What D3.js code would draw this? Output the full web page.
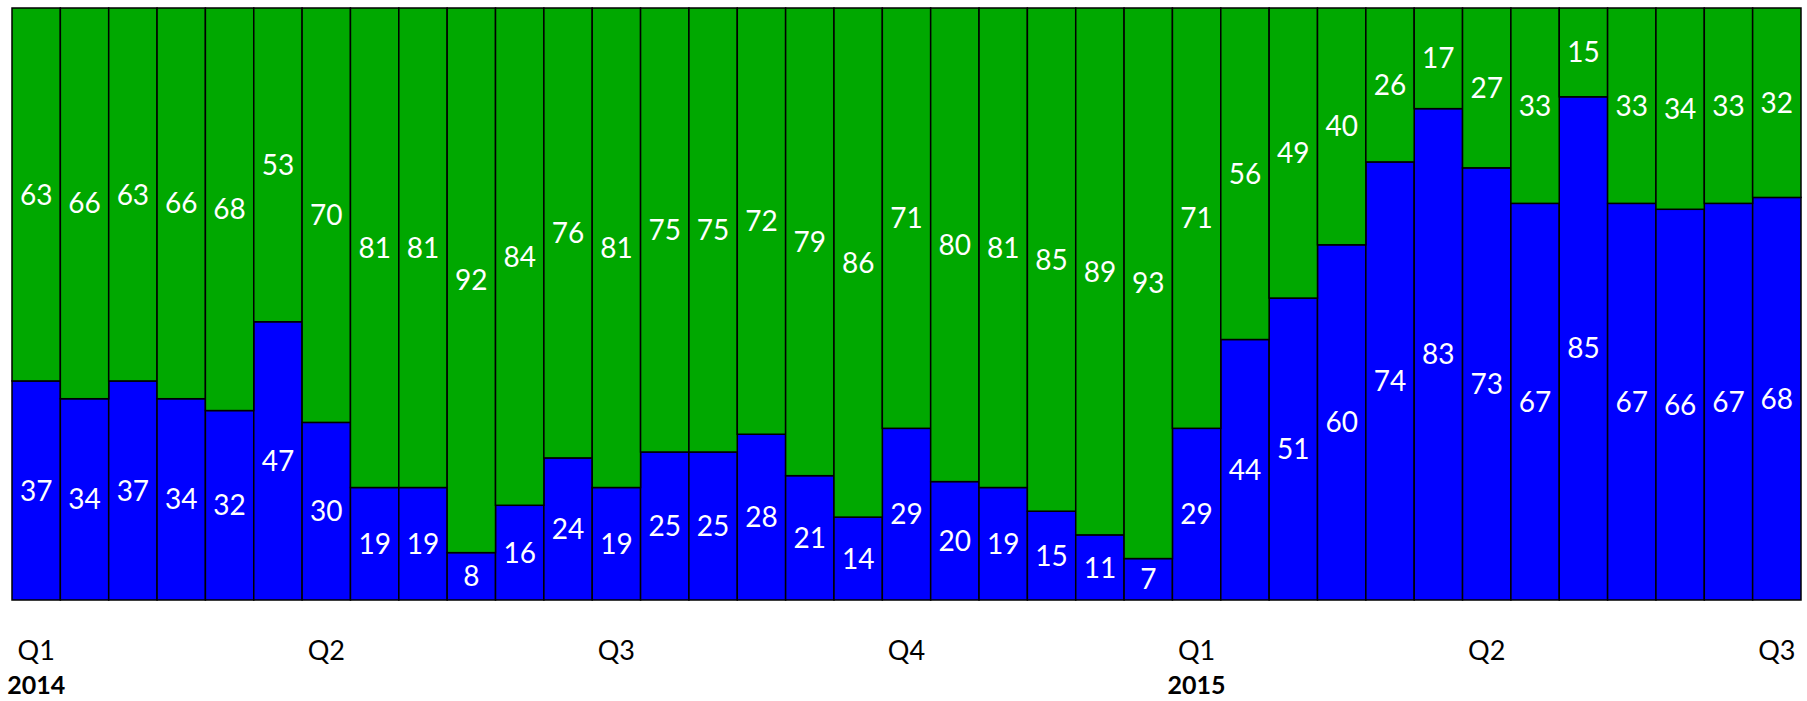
<!DOCTYPE html>
<html>
<head>
<meta charset="utf-8">
<script src="https://cdn.jsdelivr.net/npm/d3@7"></script>
<style>
  body { margin: 0; background: #fff; }
  svg { display: block; }
</style>
</head>
<body>
<div id="chart"></div>
<script>
// Data (37 periods)
const periods = d3.range(1, 38).map(d => "P" + d);
const blueValues = [37,34,37,34,32,47,30,19,19,8,16,24,19,25,25,28,21,14,29,20,19,15,11,7,29,44,51,60,74,83,73,67,85,67,66,67,68];
const greenValues = [63,66,63,66,68,53,70,81,81,92,84,76,81,75,75,72,79,86,71,80,81,85,89,93,71,56,49,40,26,17,27,33,15,33,34,33,32];
const quarterTickIndex = [0, 6, 12, 18, 24, 30, 36];
const quarterTickLabels = ["Q1", "Q2", "Q3", "Q4", "Q1", "Q2", "Q3"];
const yearTickIndex = [0, 24];
const yearTickLabels = ["2014", "2015"];

const width = 1807, height = 701;
const margin = { top: 8, right: 6, bottom: 101, left: 12 };
const innerW = width - margin.left - margin.right;
const innerH = height - margin.top - margin.bottom;
const font = "Lato";

const svg = d3.select("#chart").append("svg")
    .attr("width", width)
    .attr("height", height);

const g = svg.append("g")
    .attr("transform", `translate(${margin.left},${margin.top})`);

const x = d3.scaleBand().domain(periods).range([0, innerW]).padding(0);
const y = d3.scaleLinear().domain([0, 100]).range([innerH, 0]);

const rows = periods.map((p, i) => ({ p, blue: blueValues[i], green: greenValues[i] }));
const stacked = d3.stack().keys(["blue", "green"])(rows);
const colors = { blue: "#0000ff", green: "#00a800" };

// bars
const layers = g.selectAll(".layer")
    .data(stacked)
    .enter().append("g")
    .attr("class", "layer")
    .attr("fill", d => colors[d.key]);

layers.selectAll("rect")
    .data(d => d)
    .enter().append("rect")
    .attr("x", d => x(d.data.p))
    .attr("y", d => y(d[1]))
    .attr("width", x.bandwidth())
    .attr("height", d => y(d[0]) - y(d[1]))
    .attr("stroke", "#000")
    .attr("stroke-width", 1.5);

// value labels
layers.selectAll("text")
    .data(d => d.map(v => ({ v, key: d.key })))
    .enter().append("text")
    .attr("x", d => x(d.v.data.p) + x.bandwidth() / 2)
    .attr("y", d => (y(d.v[0]) + y(d.v[1])) / 2)
    .attr("dy", "0.36em")
    .attr("text-anchor", "middle")
    .attr("fill", "#fff")
    .style("font-family", font)
    .style("font-size", "28px")
    .text(d => d.v.data[d.key]);

// quarter axis
const qAxis = g.append("g")
    .attr("transform", `translate(0,${innerH})`)
    .call(d3.axisBottom(x)
        .tickValues(quarterTickIndex.map(i => periods[i]))
        .tickFormat((d, i) => quarterTickLabels[i])
        .tickSize(0)
        .tickPadding(41));
qAxis.select(".domain").remove();
qAxis.selectAll("text")
    .attr("fill", "#000")
    .style("font-family", font)
    .style("font-size", "27px");

// year axis
const yAxis = g.append("g")
    .attr("transform", `translate(0,${innerH})`)
    .call(d3.axisBottom(x)
        .tickValues(yearTickIndex.map(i => periods[i]))
        .tickFormat((d, i) => yearTickLabels[i])
        .tickSize(0)
        .tickPadding(76));
yAxis.select(".domain").remove();
yAxis.selectAll("text")
    .attr("fill", "#000")
    .style("font-family", font)
    .style("font-weight", "bold")
    .style("font-size", "25px");
</script>
</body>
</html>
